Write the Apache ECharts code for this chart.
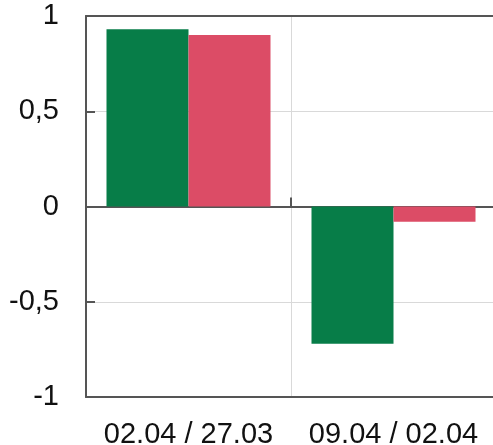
<!DOCTYPE html>
<html><head><meta charset="utf-8">
<script src="https://cdn.jsdelivr.net/npm/echarts@6/dist/echarts.min.js"></script>
<style>html,body{margin:0;padding:0;background:#fff}#c{width:493px;height:445px}</style>
</head><body><div id="c"></div>
<script>
var categories = ['02.04 / 27.03', '09.04 / 02.04'];
var greenValues = [0.93, -0.72];
var redValues = [0.90, -0.08];
var yTicks = { min: -1, max: 1, interval: 0.5 };

var chart = echarts.init(document.getElementById('c'));
var font = 'Liberation Sans, Arial, sans-serif';
chart.setOption({
  animation: false,
  grid: { left: 86, top: 16, width: 410, bottom: 48, show: false, containLabel: false, outerBoundsMode: 'none' },
  xAxis: [{
    type: 'category', data: categories, position: 'bottom',
    axisLine: { onZero: false, lineStyle: { color: '#555', width: 2 } },
    axisTick: { show: false },
    axisLabel: { fontSize: 29, color: '#111', fontFamily: font, margin: 23, interval: 0 },
    splitLine: { show: true, interval: 0, lineStyle: { color: '#d9d9d9', width: 1 } }
  }, {
    type: 'category', data: categories, position: 'top',
    axisLine: { onZero: true, lineStyle: { color: '#555', width: 2 } },
    axisTick: { show: true, inside: false, length: 9, lineStyle: { color: '#555', width: 2 } },
    axisLabel: { show: false },
    splitLine: { show: false }
  }, {
    type: 'category', data: categories, position: 'top',
    axisLine: { onZero: false, lineStyle: { color: '#555', width: 2 } },
    axisTick: { show: false },
    axisLabel: { show: false },
    splitLine: { show: false }
  }],
  yAxis: {
    type: 'value', min: yTicks.min, max: yTicks.max, interval: yTicks.interval,
    axisLine: { show: true, lineStyle: { color: '#555', width: 2 } },
    axisTick: { show: true, inside: true, length: 9, lineStyle: { color: '#555', width: 2 } },
    axisLabel: { fontSize: 29, color: '#111', fontFamily: font, margin: 27,
      formatter: function (v) { return String(v).replace('.', ','); } },
    splitLine: { show: true, lineStyle: { color: '#d9d9d9', width: 1 } }
  },
  series: [
    { type: 'bar', xAxisIndex: 0, data: greenValues, itemStyle: { color: '#077d48' }, barGap: '0%', barCategoryGap: '20%' },
    { type: 'bar', xAxisIndex: 0, data: redValues, itemStyle: { color: '#dc4c66' }, barGap: '0%', barCategoryGap: '20%' }
  ]
});
</script></body></html>
